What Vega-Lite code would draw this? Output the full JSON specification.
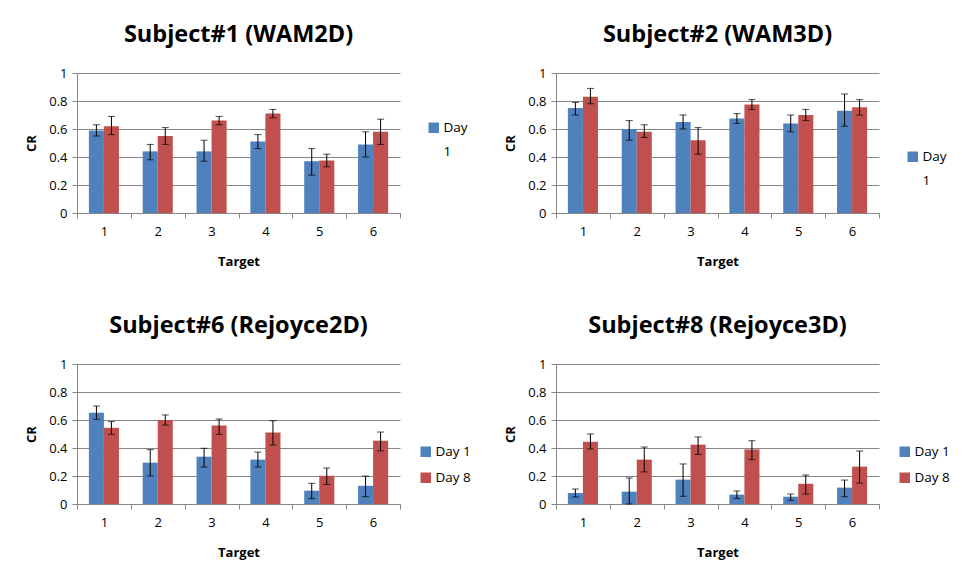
{
  "$schema": "https://vega.github.io/schema/vega-lite/v6.json",
  "background": "white",
  "padding": {"left": 25, "top": 22, "right": 5, "bottom": 5},
  "datasets": {
    "s1": [
      {"target": "1", "day": "Day 1", "cr": 0.59, "lo": 0.55, "hi": 0.63},
      {"target": "1", "day": "Day 8", "cr": 0.62, "lo": 0.56, "hi": 0.69},
      {"target": "2", "day": "Day 1", "cr": 0.44, "lo": 0.38, "hi": 0.49},
      {"target": "2", "day": "Day 8", "cr": 0.55, "lo": 0.49, "hi": 0.61},
      {"target": "3", "day": "Day 1", "cr": 0.44, "lo": 0.37, "hi": 0.52},
      {"target": "3", "day": "Day 8", "cr": 0.66, "lo": 0.63, "hi": 0.69},
      {"target": "4", "day": "Day 1", "cr": 0.51, "lo": 0.46, "hi": 0.56},
      {"target": "4", "day": "Day 8", "cr": 0.71, "lo": 0.68, "hi": 0.74},
      {"target": "5", "day": "Day 1", "cr": 0.37, "lo": 0.27, "hi": 0.46},
      {"target": "5", "day": "Day 8", "cr": 0.375, "lo": 0.33, "hi": 0.42},
      {"target": "6", "day": "Day 1", "cr": 0.49, "lo": 0.40, "hi": 0.58},
      {"target": "6", "day": "Day 8", "cr": 0.58, "lo": 0.49, "hi": 0.67}
    ],
    "s2": [
      {"target": "1", "day": "Day 1", "cr": 0.75, "lo": 0.70, "hi": 0.79},
      {"target": "1", "day": "Day 8", "cr": 0.83, "lo": 0.78, "hi": 0.89},
      {"target": "2", "day": "Day 1", "cr": 0.60, "lo": 0.52, "hi": 0.66},
      {"target": "2", "day": "Day 8", "cr": 0.58, "lo": 0.54, "hi": 0.63},
      {"target": "3", "day": "Day 1", "cr": 0.65, "lo": 0.60, "hi": 0.70},
      {"target": "3", "day": "Day 8", "cr": 0.52, "lo": 0.42, "hi": 0.61},
      {"target": "4", "day": "Day 1", "cr": 0.675, "lo": 0.64, "hi": 0.71},
      {"target": "4", "day": "Day 8", "cr": 0.775, "lo": 0.74, "hi": 0.81},
      {"target": "5", "day": "Day 1", "cr": 0.64, "lo": 0.58, "hi": 0.70},
      {"target": "5", "day": "Day 8", "cr": 0.70, "lo": 0.66, "hi": 0.74},
      {"target": "6", "day": "Day 1", "cr": 0.73, "lo": 0.62, "hi": 0.85},
      {"target": "6", "day": "Day 8", "cr": 0.755, "lo": 0.70, "hi": 0.81}
    ],
    "s6": [
      {"target": "1", "day": "Day 1", "cr": 0.652, "lo": 0.605, "hi": 0.70},
      {"target": "1", "day": "Day 8", "cr": 0.545, "lo": 0.498, "hi": 0.588},
      {"target": "2", "day": "Day 1", "cr": 0.295, "lo": 0.20, "hi": 0.388},
      {"target": "2", "day": "Day 8", "cr": 0.60, "lo": 0.564, "hi": 0.636},
      {"target": "3", "day": "Day 1", "cr": 0.338, "lo": 0.264, "hi": 0.398},
      {"target": "3", "day": "Day 8", "cr": 0.56, "lo": 0.498, "hi": 0.607},
      {"target": "4", "day": "Day 1", "cr": 0.317, "lo": 0.264, "hi": 0.371},
      {"target": "4", "day": "Day 8", "cr": 0.51, "lo": 0.421, "hi": 0.595},
      {"target": "5", "day": "Day 1", "cr": 0.095, "lo": 0.038, "hi": 0.148},
      {"target": "5", "day": "Day 8", "cr": 0.202, "lo": 0.14, "hi": 0.257},
      {"target": "6", "day": "Day 1", "cr": 0.13, "lo": 0.052, "hi": 0.20},
      {"target": "6", "day": "Day 8", "cr": 0.452, "lo": 0.379, "hi": 0.514}
    ],
    "s8": [
      {"target": "1", "day": "Day 1", "cr": 0.079, "lo": 0.05, "hi": 0.107},
      {"target": "1", "day": "Day 8", "cr": 0.445, "lo": 0.393, "hi": 0.50},
      {"target": "2", "day": "Day 1", "cr": 0.088, "lo": 0.0, "hi": 0.186},
      {"target": "2", "day": "Day 8", "cr": 0.317, "lo": 0.229, "hi": 0.407},
      {"target": "3", "day": "Day 1", "cr": 0.174, "lo": 0.055, "hi": 0.286},
      {"target": "3", "day": "Day 8", "cr": 0.424, "lo": 0.355, "hi": 0.479},
      {"target": "4", "day": "Day 1", "cr": 0.067, "lo": 0.04, "hi": 0.093},
      {"target": "4", "day": "Day 8", "cr": 0.39, "lo": 0.317, "hi": 0.452},
      {"target": "5", "day": "Day 1", "cr": 0.052, "lo": 0.026, "hi": 0.071},
      {"target": "5", "day": "Day 8", "cr": 0.145, "lo": 0.071, "hi": 0.207},
      {"target": "6", "day": "Day 1", "cr": 0.117, "lo": 0.052, "hi": 0.171},
      {"target": "6", "day": "Day 8", "cr": 0.267, "lo": 0.15, "hi": 0.379}
    ]
  },
  "columns": 2,
  "spacing": {"row": 45, "column": 33},
  "resolve": {"scale": {"color": "independent", "y": "independent", "x": "independent"}, "legend": {"color": "independent"}},
  "concat": [
    {
      "title": "Subject#1 (WAM2D)",
      "width": 323, "height": 140,
      "data": {"name": "s1"},
      "encoding": {
        "x": {"field": "target", "type": "ordinal", "title": "Target", "scale": {"paddingInner": 0, "paddingOuter": 0}},
        "xOffset": {"field": "day", "type": "nominal", "scale": {"paddingInner": 0, "paddingOuter": 0.79}}
      },
      "layer": [
        {"mark": {"type": "bar"}, "encoding": {
          "y": {"field": "cr", "type": "quantitative", "title": "CR", "scale": {"domain": [0, 1]}},
          "color": {"field": "day", "type": "nominal", "scale": {"domain": ["Day 1", "Day 8"], "range": ["#4F81BD", "#C0504D"]},
            "legend": {"title": null, "orient": "none", "legendX": 350, "legendY": 48, "values": ["Day 1"], "labelExpr": "split(datum.label, ' ')",
              "encode": {"labels": {"update": {"lineHeight": {"value": 24}}}}}}
        }},
        {"mark": {"type": "rule", "color": "black", "strokeWidth": 1}, "encoding": {"y": {"field": "lo", "type": "quantitative"}, "y2": {"field": "hi"}}},
        {"mark": {"type": "tick", "color": "black", "size": 7, "thickness": 1}, "encoding": {"y": {"field": "lo", "type": "quantitative"}}},
        {"mark": {"type": "tick", "color": "black", "size": 7, "thickness": 1}, "encoding": {"y": {"field": "hi", "type": "quantitative"}}}
      ]
    },
    {
      "title": "Subject#2 (WAM3D)",
      "width": 323, "height": 140,
      "data": {"name": "s2"},
      "encoding": {
        "x": {"field": "target", "type": "ordinal", "title": "Target", "scale": {"paddingInner": 0, "paddingOuter": 0}},
        "xOffset": {"field": "day", "type": "nominal", "scale": {"paddingInner": 0, "paddingOuter": 0.79}}
      },
      "layer": [
        {"mark": {"type": "bar"}, "encoding": {
          "y": {"field": "cr", "type": "quantitative", "title": "CR", "scale": {"domain": [0, 1]}},
          "color": {"field": "day", "type": "nominal", "scale": {"domain": ["Day 1", "Day 8"], "range": ["#4F81BD", "#C0504D"]},
            "legend": {"title": null, "orient": "none", "legendX": 350, "legendY": 77, "values": ["Day 1"], "labelExpr": "split(datum.label, ' ')",
              "encode": {"labels": {"update": {"lineHeight": {"value": 24}}}}}}
        }},
        {"mark": {"type": "rule", "color": "black", "strokeWidth": 1}, "encoding": {"y": {"field": "lo", "type": "quantitative"}, "y2": {"field": "hi"}}},
        {"mark": {"type": "tick", "color": "black", "size": 7, "thickness": 1}, "encoding": {"y": {"field": "lo", "type": "quantitative"}}},
        {"mark": {"type": "tick", "color": "black", "size": 7, "thickness": 1}, "encoding": {"y": {"field": "hi", "type": "quantitative"}}}
      ]
    },
    {
      "title": "Subject#6 (Rejoyce2D)",
      "width": 323, "height": 140,
      "data": {"name": "s6"},
      "encoding": {
        "x": {"field": "target", "type": "ordinal", "title": "Target", "scale": {"paddingInner": 0, "paddingOuter": 0}},
        "xOffset": {"field": "day", "type": "nominal", "scale": {"paddingInner": 0, "paddingOuter": 0.79}}
      },
      "layer": [
        {"mark": {"type": "bar"}, "encoding": {
          "y": {"field": "cr", "type": "quantitative", "title": "CR", "scale": {"domain": [0, 1]}},
          "color": {"field": "day", "type": "nominal", "scale": {"domain": ["Day 1", "Day 8"], "range": ["#4F81BD", "#C0504D"]},
            "legend": {"title": null, "orient": "none", "legendX": 342, "legendY": 81, "rowPadding": 11}}
        }},
        {"mark": {"type": "rule", "color": "black", "strokeWidth": 1}, "encoding": {"y": {"field": "lo", "type": "quantitative"}, "y2": {"field": "hi"}}},
        {"mark": {"type": "tick", "color": "black", "size": 7, "thickness": 1}, "encoding": {"y": {"field": "lo", "type": "quantitative"}}},
        {"mark": {"type": "tick", "color": "black", "size": 7, "thickness": 1}, "encoding": {"y": {"field": "hi", "type": "quantitative"}}}
      ]
    },
    {
      "title": "Subject#8 (Rejoyce3D)",
      "width": 323, "height": 140,
      "data": {"name": "s8"},
      "encoding": {
        "x": {"field": "target", "type": "ordinal", "title": "Target", "scale": {"paddingInner": 0, "paddingOuter": 0}},
        "xOffset": {"field": "day", "type": "nominal", "scale": {"paddingInner": 0, "paddingOuter": 0.79}}
      },
      "layer": [
        {"mark": {"type": "bar"}, "encoding": {
          "y": {"field": "cr", "type": "quantitative", "title": "CR", "scale": {"domain": [0, 1]}},
          "color": {"field": "day", "type": "nominal", "scale": {"domain": ["Day 1", "Day 8"], "range": ["#4F81BD", "#C0504D"]},
            "legend": {"title": null, "orient": "none", "legendX": 342, "legendY": 81, "rowPadding": 11}}
        }},
        {"mark": {"type": "rule", "color": "black", "strokeWidth": 1}, "encoding": {"y": {"field": "lo", "type": "quantitative"}, "y2": {"field": "hi"}}},
        {"mark": {"type": "tick", "color": "black", "size": 7, "thickness": 1}, "encoding": {"y": {"field": "lo", "type": "quantitative"}}},
        {"mark": {"type": "tick", "color": "black", "size": 7, "thickness": 1}, "encoding": {"y": {"field": "hi", "type": "quantitative"}}}
      ]
    }
  ],
  "config": {
    "font": "Open Sans",
    "view": {"stroke": null},
    "title": {"fontSize": 23.5, "fontWeight": "bold", "color": "#000000", "anchor": "middle", "offset": 21, "font": "Open Sans"},
    "axis": {
      "labelFontSize": 13, "labelColor": "#000000", "titleFontSize": 13, "titleFontWeight": "bold", "titleColor": "#000000",
      "domainColor": "#868686", "tickColor": "#868686", "gridColor": "#868686", "tickSize": 5
    },
    "axisX": {"labelAngle": 0, "tickBand": "extent", "grid": false, "labelPadding": 7, "titlePadding": 17},
    "axisY": {"grid": true, "values": [0, 0.2, 0.4, 0.6, 0.8, 1], "labelExpr": "toString(datum.value)", "labelPadding": 5, "titlePadding": 10},
    "legend": {"labelFontSize": 13.5, "labelColor": "#000000", "symbolType": "square", "symbolSize": 110, "rowPadding": 8, "symbolStrokeWidth": 0, "labelOffset": 3}
  }
}
